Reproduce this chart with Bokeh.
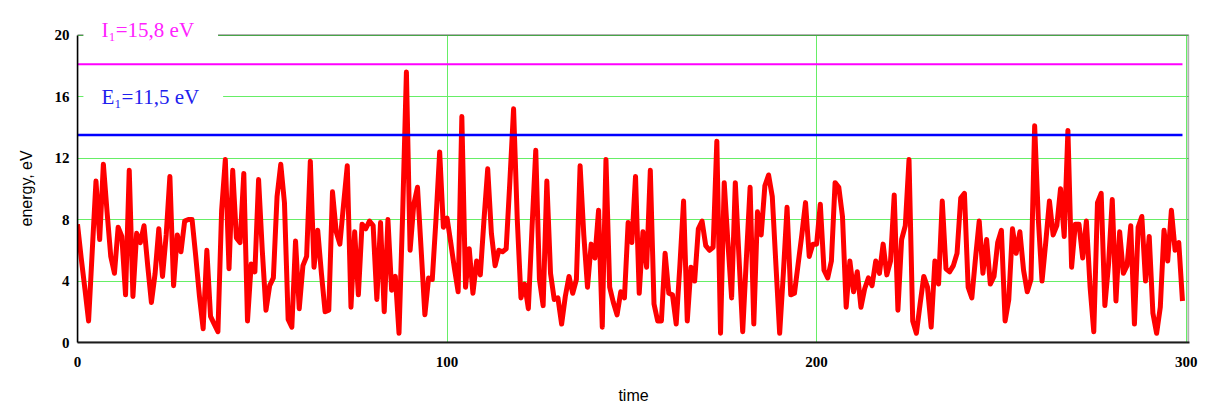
from bokeh.plotting import figure
from bokeh.models import Range1d, FixedTicker, Label, BoxAnnotation, Title
from bokeh.embed import file_html
from bokeh.resources import INLINE

# ---- data ----
energy = [
    7.7, 5.5, 3.5, 1.4, 6.0, 10.5, 6.7, 11.6, 8.5, 5.6,
    4.5, 7.5, 6.9, 3.1, 11.2, 3.0, 7.1, 6.5, 7.6, 5.0,
    2.6, 4.5, 7.4, 4.3, 7.0, 10.8, 3.7, 7.0,
    5.9, 7.9, 8.0, 8.0, 5.6, 3.0, 0.9, 6.0, 1.7, 1.2,
    0.7, 8.6, 11.9, 4.8, 11.2, 6.8, 6.5, 11.0, 1.4, 5.1,
    4.6, 10.6, 6.0, 2.1, 3.7, 4.2,
    9.5, 11.6, 9.1, 1.5, 1.0, 6.6, 2.2, 5.0, 5.6, 11.8,
    4.9, 7.3, 4.5, 2.0, 2.1, 9.8, 7.2, 6.4, 9.0, 11.5,
    2.3, 7.2, 3.1, 7.7, 7.4, 7.9, 7.6, 2.8,
    7.8, 2.0, 8.0, 3.4, 4.3, 0.6, 8.5, 17.6, 6.0, 9.0,
    10.1, 6.0, 1.8, 4.2, 4.1, 8.0, 12.4, 7.5, 8.1, 6.5,
    4.8, 3.3, 14.7, 3.6, 6.1, 3.2, 5.3,
    4.4, 8.0, 11.3, 7.1, 5.0, 6.0, 5.9, 6.1, 10.5, 15.2,
    8.0, 2.9, 3.8, 2.2, 7.5, 12.5, 4.1, 2.4, 10.5, 4.5,
    2.8, 2.9, 1.2, 3.0, 4.3, 3.2,
    4.1, 11.5, 7.0, 3.6, 6.4, 5.5, 8.6, 1.0, 11.9, 3.6,
    2.6, 1.8, 3.3, 2.9, 7.8, 6.5, 10.8, 3.2, 7.2, 4.9,
    11.2, 2.5, 1.4, 1.4, 5.8, 3.2, 3.1, 1.2,
    5.0, 9.2, 1.4, 4.9, 4.0, 7.4, 7.9, 6.3, 6.0, 6.2,
    13.1, 0.6, 10.4, 6.5, 2.9, 10.4, 5.5, 0.7, 5.5, 10.1,
    1.2, 8.5, 7.0, 10.2, 10.9, 9.5, 5.0, 0.6,
    4.5, 8.8, 3.1, 3.2, 5.1, 7.0, 9.1, 5.6, 6.4, 6.4,
    9.0, 4.7, 4.2, 5.3, 10.4, 10.1, 8.2, 2.3, 5.3, 3.3,
    4.6, 2.3, 3.5, 4.2, 3.7, 5.3,
    4.5, 6.4, 4.4, 5.3, 9.6, 2.1, 6.7, 7.6, 11.9, 1.4,
    0.6, 2.5, 4.3, 3.6, 1.0, 5.3, 3.8, 9.2, 4.8, 4.6,
    5.0, 5.8, 9.4, 9.7, 3.6, 2.9, 5.5,
    7.9, 4.5, 6.7, 3.8, 4.3, 6.5, 7.3, 1.4, 2.8, 7.4,
    5.8, 7.2, 4.7, 3.3, 4.1, 14.1, 8.0, 4.0, 6.5, 9.2,
    7.0, 7.6, 10.0, 6.9, 13.8, 4.9, 7.7,
    7.7, 5.5, 7.9, 3.6, 0.7, 9.1, 9.7, 2.4, 5.1, 9.3,
    2.7, 7.2, 4.5, 5.0, 7.6, 1.2, 7.5, 8.2, 4.0, 6.9,
    1.9, 0.6, 2.3, 7.3, 5.3, 8.6, 6.0, 6.5, 2.7,
]
time = list(range(len(energy)))

ionization_level = 18.1
excitation_level = 13.5
ionization_text = "I\u2081=15,8 eV"
excitation_text = "E\u2081=11,5 eV"
x_title = "time"
y_title = "energy, eV"

x_ticks = [0, 100, 200, 300]
y_ticks = [0, 4, 8, 12, 16, 20]
x_min, x_max = 0, 300.6
y_min, y_max = 0, 20

# ---- figure (frame extends a little above y_max so the top label can sit on the border) ----
p = figure(width=1209, height=406, output_backend="svg", toolbar_location=None,
           x_range=Range1d(x_min, 300.9), y_range=Range1d(y_min, 21.6),
           min_border_left=0, min_border_right=20, min_border_top=10,
           min_border_bottom=60, x_axis_label=x_title)
p.outline_line_color = None
p.background_fill_color = "white"
p.border_fill_color = "white"

GRID = "#66ee66"
p.xgrid.ticker = FixedTicker(ticks=x_ticks)
p.ygrid.ticker = FixedTicker(ticks=y_ticks)
p.grid.grid_line_color = GRID
p.grid.grid_line_width = 1
p.xgrid.cross_bounds = (y_min, y_max)
p.ygrid.cross_bounds = (x_min, x_max)

for ax, ticks in ((p.xaxis[0], x_ticks), (p.yaxis[0], y_ticks)):
    ax.ticker = FixedTicker(ticks=ticks)
    ax.major_tick_line_color = None
    ax.minor_tick_line_color = None
    ax.major_label_text_font = "Liberation Serif"
    ax.major_label_text_font_style = "bold"
    ax.major_label_text_font_size = "15px"
    ax.major_label_text_color = "black"
    ax.axis_label_text_font = "Liberation Sans"
    ax.axis_label_text_font_style = "normal"
    ax.axis_label_text_font_size = "16px"
    ax.axis_label_text_color = "black"

p.xaxis[0].axis_line_color = "#222222"
p.xaxis[0].axis_line_width = 2
p.xaxis[0].major_label_standoff = 8
p.xaxis[0].axis_label_standoff = 17
p.yaxis[0].bounds = (y_min, y_max)
p.yaxis[0].axis_line_color = "black"
p.yaxis[0].axis_line_width = 1.5
p.yaxis[0].major_label_standoff = 2

# y axis title, placed on the left and centred on the 0..20 part of the frame
p.add_layout(Title(text=y_title, align="left", offset=116, vertical_align="middle",
                   text_font="Liberation Sans", text_font_style="normal",
                   text_font_size="16px", text_color="black", standoff=32), "left")

# plot border
p.add_layout(BoxAnnotation(left=x_min, right=x_max, bottom=y_min, top=y_max,
                           fill_color=None, line_color="black", line_width=2))

# ---- series ----
p.line(time, energy, line_color="#ff0000", line_width=5, line_join="round")
p.line([time[0], time[-1]], [excitation_level, excitation_level],
       line_color="#0000ff", line_width=2.5)
p.line([time[0], time[-1]], [ionization_level, ionization_level],
       line_color="#ff00ff", line_width=2)

# ---- level labels ----
def make_label(txt, y, color):
    lab = Label(x=1.6, y=y, text=txt, text_align="left", text_baseline="middle",
                text_font="Liberation Serif", text_font_size="21px",
                text_color=color, background_fill_color="white")
    try:
        lab.padding = dict(left=18, right=24, top=2, bottom=2)
    except Exception:
        try:
            lab.padding = (18, 2)
        except Exception:
            lab.padding = 4
    return lab

p.add_layout(make_label(ionization_text, 20.32, "#ff22ff"))
p.add_layout(make_label(excitation_text, 15.98, "#2020ee"))

open("out.html", "w").write(file_html(p, INLINE))
